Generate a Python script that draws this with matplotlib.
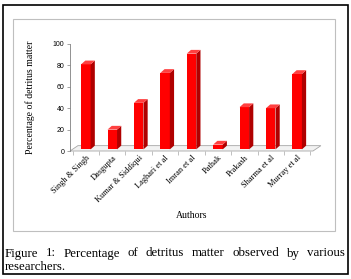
import numpy as np
import matplotlib.pyplot as plt
from matplotlib.patches import Polygon, Rectangle

authors = ['Singh & Singh', 'Dasgupta', 'Kumar & Siddiqui', 'Laghari et al',
           'Imran et al', 'Pathak', 'Prakash', 'Sharma et al', 'Murray et al']
detritus = [81, 20, 45, 73, 91, 6, 41, 40, 72]
yticks = [0, 20, 40, 60, 80, 100]
caption1 = 'Figure 1: Percentage of detritus matter observed by various'
caption2 = 'researchers.'

W, H = 351, 279
fig = plt.figure(figsize=(W / 100, H / 100), dpi=100)

# outer frame and chart-area frame
fig.patches.append(Rectangle((2.5 / W, 5 / H), 345 / W, 269 / H, transform=fig.transFigure,
                             fill=False, ec='black', lw=1.2))
fig.patches.append(Rectangle((13 / W, 48 / H), 322 / W, 212 / H, transform=fig.transFigure,
                             fill=False, ec='#bfbfbf', lw=0.8))

ax = fig.add_axes([70 / W, 128 / H, 243 / W, 107 / H])
ax.set_xlim(-0.6, len(authors) - 0.4)
ax.set_ylim(0, 100)

# 3d-ish offset in data units
dx, dy = 0.16, 3.5
bw = 0.36
x = np.arange(len(authors))

# floor
ax.add_patch(Polygon([(-0.6, 0), (len(authors) - 0.4, 0),
                      (len(authors) - 0.4 + 0.3, dy + 1.5), (-0.6 + 0.3, dy + 1.5)],
                     closed=True, fc='#f2f2f2', ec='#a6a6a6', lw=0.6, clip_on=False, zorder=1))

for xi, v in zip(x, detritus):
    x0, x1 = xi - bw / 2, xi + bw / 2
    base = 1.5
    ax.add_patch(Rectangle((x0, base), bw, v - base, fc='#ff0000', ec='none', zorder=3))
    ax.add_patch(Polygon([(x1, base), (x1 + dx, base + dy), (x1 + dx, v + dy), (x1, v)],
                         closed=True, fc='#b00000', ec='none', zorder=3))
    ax.add_patch(Polygon([(x0, v), (x1, v), (x1 + dx, v + dy), (x0 + dx, v + dy)],
                         closed=True, fc='#ff4040', ec='none', zorder=3))

for s in ['top', 'right', 'bottom']:
    ax.spines[s].set_visible(False)
ax.spines['left'].set_color('#808080')
ax.spines['left'].set_linewidth(0.6)

ax.set_yticks(yticks)
ax.tick_params(axis='y', labelsize=5, length=2, width=0.5, color='#808080', pad=2)
for lab in ax.get_yticklabels():
    lab.set_fontfamily('Liberation Sans')

ax.set_xticks(x)
ax.set_xticks(np.arange(-0.5, len(authors)), minor=True)
ax.tick_params(axis='x', which='major', length=0, pad=2)
ax.tick_params(axis='x', which='minor', length=3, width=0.5, color='#a6a6a6')
ax.set_xticklabels(authors, rotation=45, ha='right', rotation_mode='anchor',
                   fontsize=6, fontfamily='Liberation Serif')

ax.set_ylabel('Percentage of detritus matter', fontsize=7, fontfamily='Liberation Serif', labelpad=13)
ax.set_xlabel('Authors', fontsize=7, fontfamily='Liberation Serif', labelpad=5)

# justified caption, first line spread across the frame width
cap_kw = dict(fontsize=9.3, fontfamily='Liberation Serif', va='baseline', ha='left')
left_px, right_px = 5, 345
words = caption1.split(' ')
renderer = fig.canvas.get_renderer()
widths = []
for w in words:
    t = fig.text(0, 0, w, **cap_kw)
    widths.append(t.get_window_extent(renderer).width)
    t.remove()
gap = (right_px - left_px - sum(widths)) / (len(words) - 1)
xpos = left_px
for w, wd in zip(words, widths):
    fig.text(xpos / W, 1 - 256.5 / H, w, **cap_kw)
    xpos += wd + gap
fig.text(left_px / W, 1 - 270 / H, caption2, **cap_kw)

fig.savefig('out.png', dpi=100)
